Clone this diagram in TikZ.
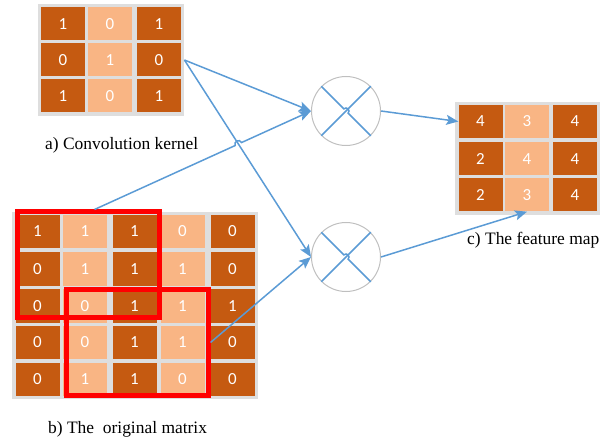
\documentclass[tikz,border=0pt]{standalone}
\usepackage{fontspec}
\setmainfont{Liberation Serif}
\newfontfamily\cellfont{Carlito}
\usetikzlibrary{arrows.meta,fit,backgrounds,calc,intersections}

\definecolor{darkorange}{HTML}{C55A11}
\definecolor{lightorange}{HTML}{F9B584}
\definecolor{gridgray}{HTML}{DEDEDE}
\definecolor{ringgray}{HTML}{BFBFBF}
\definecolor{linkblue}{HTML}{5B9BD5}

\begin{document}
\begin{tikzpicture}[x=1bp,y=1bp,
    cell/.style={minimum width=44bp,minimum height=33bp,inner sep=0pt,
      text=white,font=\cellfont\fontsize{17}{17}\selectfont},
    dark/.style={cell,fill=darkorange},
    light/.style={cell,fill=lightorange},
    panel/.style={fill=gridgray,inner sep=3bp},
    window/.style={draw=red,line width=5bp,minimum width=142bp,
      minimum height=105bp,inner sep=0pt},
    mul/.style={circle,draw=ringgray,line width=1bp,minimum size=69bp,inner sep=0pt},
    link/.style={draw=linkblue,line width=1.5bp},
    arrow/.style={link,-{Stealth[length=12bp,width=10bp,inset=2.5bp]}},
    caption/.style={font=\fontsize{17.5}{20}\selectfont,inner sep=0pt}]

  \useasboundingbox (0,0) rectangle (608,-441);

  % kernel
  \begin{scope}[every node/.style={dark}]
    \node (k11) at (63,-24)  {1};
    \node (k13) at (159,-24) {1};
    \node (k21) at (63,-60)  {0};
    \node (k23) at (159,-60) {0};
    \node (k31) at (63,-96)  {1};
    \node (k33) at (159,-96) {1};
  \end{scope}
  \begin{scope}[every node/.style={light}]
    \node (k12) at (110,-24) {0};
    \node (k22) at (110,-60) {1};
    \node (k32) at (110,-96) {0};
  \end{scope}

  % original matrix
  \begin{scope}[every node/.style={dark}]
    \node (o11) at (37.5,-231.5)  {1};
    \node (o13) at (134.5,-231.5) {1};
    \node (o15) at (232.5,-231.5) {0};
    \node (o21) at (37.5,-269)    {0};
    \node (o23) at (134.5,-269)   {1};
    \node (o25) at (232.5,-269)   {0};
    \node (o31) at (37.5,-306)    {0};
    \node (o33) at (134.5,-306)   {1};
    \node (o35) at (232.5,-306)   {1};
    \node (o41) at (37.5,-342.5)  {0};
    \node (o43) at (134.5,-342.5) {1};
    \node (o45) at (232.5,-342.5) {0};
    \node (o51) at (37.5,-379)    {0};
    \node (o53) at (134.5,-379)   {1};
    \node (o55) at (232.5,-379)   {0};
  \end{scope}
  \begin{scope}[every node/.style={light}]
    \node (o12) at (85,-231.5)    {1};
    \node (o14) at (182.5,-231.5) {0};
    \node (o22) at (85,-269)      {1};
    \node (o24) at (182.5,-269)   {1};
    \node (o32) at (85,-306)      {0};
    \node (o34) at (182.5,-306)   {1};
    \node (o42) at (85,-342.5)    {0};
    \node (o44) at (182.5,-342.5) {1};
    \node (o52) at (85,-379)      {1};
    \node (o54) at (182.5,-379)   {0};
  \end{scope}

  % feature map
  \begin{scope}[every node/.style={dark}]
    \node (f11) at (480.5,-121.5) {4};
    \node (f13) at (575,-121.5)   {4};
    \node (f21) at (480.5,-159)   {2};
    \node (f23) at (575,-159)     {4};
    \node (f31) at (480.5,-195)   {2};
    \node (f33) at (575,-195)     {4};
  \end{scope}
  \begin{scope}[every node/.style={light}]
    \node (f12) at (527,-121.5) {3};
    \node (f22) at (527,-159)   {4};
    \node (f32) at (527,-195)   {3};
  \end{scope}

  \begin{scope}[on background layer]
    \node[panel,fit=(k11)(k33)] (kernel) {};
    \node[panel,fit=(o11)(o55)] (orig) {};
    \node[panel,fit=(f11)(f33)] (fmap) {};
  \end{scope}

  % sliding windows
  \node[window] (win1) at (88.5,-264.5) {};
  \node[window] (win2) at (137,-342.5)  {};

  % multipliers
  \node[mul] (mul1) at (346,-111) {};
  \node[mul] (mul2) at (346,-257) {};
  \foreach \m in {mul1,mul2} {
    \draw[link] (\m.north west) -- ($(\m.center)+(135:3)$)
      arc[start angle=135,end angle=-45,radius=3] -- (\m.south east);
    \draw[link] (\m.south west) -- (\m.north east);
  }

  % connections
  \draw[arrow,name path=kto2] (kernel.east) -- (mul2.west);
  \draw[arrow] (kernel.east) -- (mul1.west);
  \path[name path=wto1] ([xshift=6bp]win1.north) -- (mul1.west);
  \path[name intersections={of=kto2 and wto1,by=hop}];
  \draw[arrow] ([xshift=6bp]win1.north) -- ($(hop)+(205:3.5)$)
    arc[start angle=205,end angle=25,radius=3.5] -- (mul1.west);
  \draw[arrow] (win2.east) -- (mul2.west);
  \draw[arrow] (mul1.east) -- (f11.west);
  \draw[arrow] (mul2.east) -- (f32.south);

  % captions
  \node[caption,anchor=base west] (kcap) at (45,-150)  {a) Convolution kernel};
  \node[caption,anchor=base west] (ocap) at (48,-433)  {b) The\ \ original matrix};
  \node[caption,anchor=base west] (fcap) at (467,-245) {c) The feature map};

\end{tikzpicture}
\end{document}
